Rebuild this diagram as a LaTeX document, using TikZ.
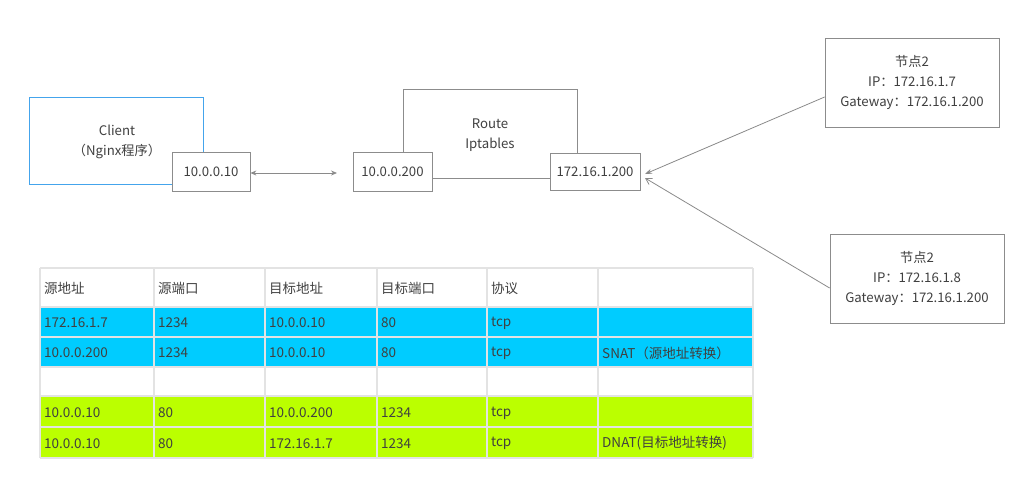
\documentclass[tikz,border=0pt]{standalone}
\usepackage{fontspec}
\setmainfont{Noto Sans CJK SC}
\usetikzlibrary{arrows.meta}
\definecolor{boxgray}{HTML}{8C8C8C}
\definecolor{txt}{HTML}{404040}
\definecolor{clientblue}{HTML}{44A4EC}
\definecolor{rowcyan}{HTML}{00CCFF}
\definecolor{rowlime}{HTML}{BBFF00}
\definecolor{gridc}{HTML}{E3E3E3}
\definecolor{arrowc}{HTML}{8A8A8A}
\begin{document}
\begin{tikzpicture}[x=1pt,y=-1pt,
  every node/.style={font=\fontsize{13.2}{20}\selectfont, text=txt},
  box/.style={draw=boxgray, line width=0.8pt, fill=white, inner sep=0pt, align=center},
  cell/.style={anchor=west, inner sep=0pt, font=\fontsize{13.5}{15}\selectfont, text=txt},
  conn/.style={draw=arrowc, line width=0.8pt}]
\useasboundingbox (0,0) rectangle (1028,483);
% Client
\node[box, draw=clientblue, line width=1pt, minimum width=174pt, minimum height=87pt] (client) at (116,140.5) {};
\node[align=center, inner sep=0pt] (clienttxt) at (117,142) {Client\\（Nginx程序）};
% Route
\node[box, minimum width=174pt, minimum height=89pt] (route) at (490,133.5) {};
\node[align=center, inner sep=0pt] (routetxt) at (490,135) {Route\\Iptables};
% port boxes
\node[box, minimum width=78pt, minimum height=39pt] (ip1) at (211,171.5) {10.0.0.10};
\node[box, minimum width=79pt, minimum height=39pt] (ip2) at (392.5,171.5) {10.0.0.200};
\node[box, minimum width=90pt, minimum height=37pt] (ip3) at (595,171.5) {172.16.1.200};
\coordinate (dend) at (337,173);
\draw[conn, {Stealth[length=6pt,width=5pt]}-{Stealth[length=6pt,width=5pt]}] (ip1.east |- dend) -- (dend);
% nodes
\node[box, minimum width=174pt, minimum height=89pt] (n1) at (912,82.5) {节点2\\IP：172.16.1.7\\Gateway：172.16.1.200};
\node[box, minimum width=174pt, minimum height=89pt] (n2) at (917,278.5) {节点2\\IP：172.16.1.8\\Gateway：172.16.1.200};
\coordinate (a1) at (645,174);
\coordinate (a2) at (645,178);
\draw[conn, -{Stealth[length=7pt,width=5pt]}] (n1.west |- 0,97) -- (a1);
\draw[conn, -{Straight Barb[length=6pt,width=7pt]}] (n2.west |- 0,288) -- (a2);
% table
\fill[rowcyan] (40,307) rectangle (753,367);
\fill[rowlime] (40,396) rectangle (753,458);
\foreach \yy in {268,307,337,367,396,427,458}
  \draw[gridc, line width=1.6pt] (40,\yy) -- (753,\yy);
\foreach \xx in {40,154,265,377,487,598,753}
  \draw[gridc, line width=1.6pt] (\xx,268) -- (\xx,458);
% header
\node[cell] (h1) at (44,288.5) {源地址};
\node[cell] (h2) at (158,288.5) {源端口};
\node[cell] (h3) at (269,288.5) {目标地址};
\node[cell] (h4) at (381,288.5) {目标端口};
\node[cell] (h5) at (491,288.5) {协议};
% row 1
\node[cell] at (44,323) {172.16.1.7};
\node[cell] at (158,323) {1234};
\node[cell] at (269,323) {10.0.0.10};
\node[cell] at (381,323) {80};
\node[cell] at (491,323) {tcp};
% row 2
\node[cell] at (44,353) {10.0.0.200};
\node[cell] at (158,353) {1234};
\node[cell] at (269,353) {10.0.0.10};
\node[cell] at (381,353) {80};
\node[cell] at (491,353) {tcp};
\node[cell] at (602,353) {SNAT（源地址转换）};
% row 4
\node[cell] at (44,413) {10.0.0.10};
\node[cell] at (158,413) {80};
\node[cell] at (269,413) {10.0.0.200};
\node[cell] at (381,413) {1234};
\node[cell] at (491,413) {tcp};
% row 5
\node[cell] at (44,443.5) {10.0.0.10};
\node[cell] at (158,443.5) {80};
\node[cell] at (269,443.5) {172.16.1.7};
\node[cell] at (381,443.5) {1234};
\node[cell] at (491,443.5) {tcp};
\node[cell] at (602,443.5) {DNAT(目标地址转换)};
\end{tikzpicture}
\end{document}
